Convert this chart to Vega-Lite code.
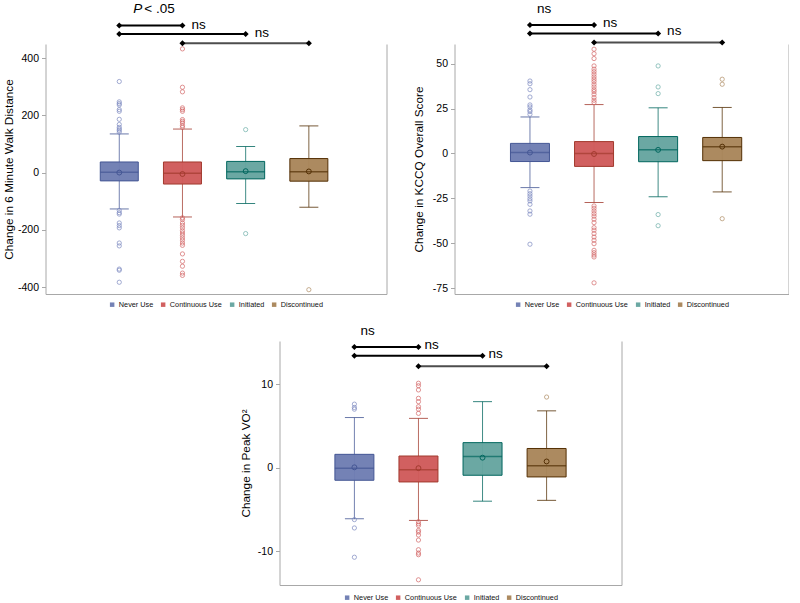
{
"$schema": "https://vega.github.io/schema/vega-lite/v6.json",
"padding": {"left": 2.5, "top": 1, "right": 0, "bottom": 0},
"datasets": {
"boxes": [
{"panel":"6MWD","group":"Never Use","lower":-127,"q1":-29,"median":1,"q3":37,"upper":135,"mean":0},
{"panel":"6MWD","group":"Continuous Use","lower":-155,"q1":-40,"median":-2,"q3":37,"upper":152,"mean":-5},
{"panel":"6MWD","group":"Initiated","lower":-108,"q1":-22,"median":3,"q3":39,"upper":91,"mean":5},
{"panel":"6MWD","group":"Discontinued","lower":-121,"q1":-30,"median":3,"q3":49,"upper":163,"mean":4},
{"panel":"KCCQ","group":"Never Use","lower":-19,"q1":-4.5,"median":0.5,"q3":5.6,"upper":20.3,"mean":0.5},
{"panel":"KCCQ","group":"Continuous Use","lower":-27.3,"q1":-7.2,"median":0,"q3":6.6,"upper":27.2,"mean":-0.3},
{"panel":"KCCQ","group":"Initiated","lower":-24.1,"q1":-4.6,"median":2,"q3":9.4,"upper":25.4,"mean":2},
{"panel":"KCCQ","group":"Discontinued","lower":-21.4,"q1":-4,"median":3.7,"q3":8.9,"upper":25.6,"mean":3.8},
{"panel":"VO2","group":"Never Use","lower":-6.1,"q1":-1.5,"median":-0.05,"q3":1.6,"upper":6.0,"mean":0.05},
{"panel":"VO2","group":"Continuous Use","lower":-6.3,"q1":-1.7,"median":-0.25,"q3":1.4,"upper":5.9,"mean":-0.05},
{"panel":"VO2","group":"Initiated","lower":-4.0,"q1":-0.9,"median":1.35,"q3":3.0,"upper":7.9,"mean":1.2},
{"panel":"VO2","group":"Discontinued","lower":-3.9,"q1":-1.1,"median":0.25,"q3":2.3,"upper":6.8,"mean":0.75}
],
"outliers": [
{"panel":"6MWD","group":"Never Use","value":318},{"panel":"6MWD","group":"Never Use","value":247},{"panel":"6MWD","group":"Never Use","value":241},{"panel":"6MWD","group":"Never Use","value":236},{"panel":"6MWD","group":"Never Use","value":220},{"panel":"6MWD","group":"Never Use","value":214},{"panel":"6MWD","group":"Never Use","value":186},{"panel":"6MWD","group":"Never Use","value":168},{"panel":"6MWD","group":"Never Use","value":158},{"panel":"6MWD","group":"Never Use","value":152},{"panel":"6MWD","group":"Never Use","value":147},{"panel":"6MWD","group":"Never Use","value":141},
{"panel":"6MWD","group":"Never Use","value":-132},{"panel":"6MWD","group":"Never Use","value":-140},{"panel":"6MWD","group":"Never Use","value":-145},{"panel":"6MWD","group":"Never Use","value":-176},{"panel":"6MWD","group":"Never Use","value":-185},{"panel":"6MWD","group":"Never Use","value":-193},{"panel":"6MWD","group":"Never Use","value":-246},{"panel":"6MWD","group":"Never Use","value":-256},{"panel":"6MWD","group":"Never Use","value":-337},{"panel":"6MWD","group":"Never Use","value":-341},{"panel":"6MWD","group":"Never Use","value":-383},
{"panel":"6MWD","group":"Continuous Use","value":432},{"panel":"6MWD","group":"Continuous Use","value":298},{"panel":"6MWD","group":"Continuous Use","value":282},{"panel":"6MWD","group":"Continuous Use","value":226},{"panel":"6MWD","group":"Continuous Use","value":220},{"panel":"6MWD","group":"Continuous Use","value":214},{"panel":"6MWD","group":"Continuous Use","value":185},{"panel":"6MWD","group":"Continuous Use","value":179},{"panel":"6MWD","group":"Continuous Use","value":173},{"panel":"6MWD","group":"Continuous Use","value":164},{"panel":"6MWD","group":"Continuous Use","value":158},
{"panel":"6MWD","group":"Continuous Use","value":-158},{"panel":"6MWD","group":"Continuous Use","value":-164},{"panel":"6MWD","group":"Continuous Use","value":-176},{"panel":"6MWD","group":"Continuous Use","value":-184},{"panel":"6MWD","group":"Continuous Use","value":-193},{"panel":"6MWD","group":"Continuous Use","value":-203},{"panel":"6MWD","group":"Continuous Use","value":-211},{"panel":"6MWD","group":"Continuous Use","value":-219},{"panel":"6MWD","group":"Continuous Use","value":-228},{"panel":"6MWD","group":"Continuous Use","value":-236},{"panel":"6MWD","group":"Continuous Use","value":-246},{"panel":"6MWD","group":"Continuous Use","value":-254},{"panel":"6MWD","group":"Continuous Use","value":-284},{"panel":"6MWD","group":"Continuous Use","value":-310},{"panel":"6MWD","group":"Continuous Use","value":-327},{"panel":"6MWD","group":"Continuous Use","value":-351},{"panel":"6MWD","group":"Continuous Use","value":-359},
{"panel":"6MWD","group":"Initiated","value":150},{"panel":"6MWD","group":"Initiated","value":-213},
{"panel":"6MWD","group":"Discontinued","value":-409},
{"panel":"KCCQ","group":"Never Use","value":40.3},{"panel":"KCCQ","group":"Never Use","value":38.8},{"panel":"KCCQ","group":"Never Use","value":35.5},{"panel":"KCCQ","group":"Never Use","value":31.4},{"panel":"KCCQ","group":"Never Use","value":27},{"panel":"KCCQ","group":"Never Use","value":25.9},{"panel":"KCCQ","group":"Never Use","value":24.2},{"panel":"KCCQ","group":"Never Use","value":23.3},{"panel":"KCCQ","group":"Never Use","value":21.8},
{"panel":"KCCQ","group":"Never Use","value":-20.9},{"panel":"KCCQ","group":"Never Use","value":-22.4},{"panel":"KCCQ","group":"Never Use","value":-23.7},{"panel":"KCCQ","group":"Never Use","value":-25.2},{"panel":"KCCQ","group":"Never Use","value":-26.4},{"panel":"KCCQ","group":"Never Use","value":-28.3},{"panel":"KCCQ","group":"Never Use","value":-32},{"panel":"KCCQ","group":"Never Use","value":-33.8},{"panel":"KCCQ","group":"Never Use","value":-50.5},
{"panel":"KCCQ","group":"Continuous Use","value":58},{"panel":"KCCQ","group":"Continuous Use","value":55.5},{"panel":"KCCQ","group":"Continuous Use","value":52.8},{"panel":"KCCQ","group":"Continuous Use","value":48.7},{"panel":"KCCQ","group":"Continuous Use","value":46.9},{"panel":"KCCQ","group":"Continuous Use","value":45.5},{"panel":"KCCQ","group":"Continuous Use","value":44.1},{"panel":"KCCQ","group":"Continuous Use","value":42.6},{"panel":"KCCQ","group":"Continuous Use","value":41.3},{"panel":"KCCQ","group":"Continuous Use","value":40},{"panel":"KCCQ","group":"Continuous Use","value":38.5},{"panel":"KCCQ","group":"Continuous Use","value":37},{"panel":"KCCQ","group":"Continuous Use","value":35.5},{"panel":"KCCQ","group":"Continuous Use","value":34.4},{"panel":"KCCQ","group":"Continuous Use","value":32.9},{"panel":"KCCQ","group":"Continuous Use","value":31.1},{"panel":"KCCQ","group":"Continuous Use","value":29.6},{"panel":"KCCQ","group":"Continuous Use","value":28.3},
{"panel":"KCCQ","group":"Continuous Use","value":-29.2},{"panel":"KCCQ","group":"Continuous Use","value":-30.5},{"panel":"KCCQ","group":"Continuous Use","value":-32},{"panel":"KCCQ","group":"Continuous Use","value":-33.5},{"panel":"KCCQ","group":"Continuous Use","value":-34.9},{"panel":"KCCQ","group":"Continuous Use","value":-36.6},{"panel":"KCCQ","group":"Continuous Use","value":-38.5},{"panel":"KCCQ","group":"Continuous Use","value":-41.3},{"panel":"KCCQ","group":"Continuous Use","value":-42.7},{"panel":"KCCQ","group":"Continuous Use","value":-44.6},{"panel":"KCCQ","group":"Continuous Use","value":-46.5},{"panel":"KCCQ","group":"Continuous Use","value":-48.3},{"panel":"KCCQ","group":"Continuous Use","value":-50.2},{"panel":"KCCQ","group":"Continuous Use","value":-53.9},{"panel":"KCCQ","group":"Continuous Use","value":-55.2},{"panel":"KCCQ","group":"Continuous Use","value":-56.5},{"panel":"KCCQ","group":"Continuous Use","value":-57.6},{"panel":"KCCQ","group":"Continuous Use","value":-72},
{"panel":"KCCQ","group":"Initiated","value":48.7},{"panel":"KCCQ","group":"Initiated","value":37},{"panel":"KCCQ","group":"Initiated","value":33.3},{"panel":"KCCQ","group":"Initiated","value":-34},{"panel":"KCCQ","group":"Initiated","value":-40.2},
{"panel":"KCCQ","group":"Discontinued","value":41.3},{"panel":"KCCQ","group":"Discontinued","value":38.5},{"panel":"KCCQ","group":"Discontinued","value":-36.3},
{"panel":"VO2","group":"Never Use","value":7.6},{"panel":"VO2","group":"Never Use","value":7.2},{"panel":"VO2","group":"Never Use","value":7.0},{"panel":"VO2","group":"Never Use","value":-6.2},{"panel":"VO2","group":"Never Use","value":-7.2},{"panel":"VO2","group":"Never Use","value":-10.7},
{"panel":"VO2","group":"Continuous Use","value":10.1},{"panel":"VO2","group":"Continuous Use","value":9.8},{"panel":"VO2","group":"Continuous Use","value":9.3},{"panel":"VO2","group":"Continuous Use","value":8.3},{"panel":"VO2","group":"Continuous Use","value":7.9},{"panel":"VO2","group":"Continuous Use","value":7.3},{"panel":"VO2","group":"Continuous Use","value":7.0},{"panel":"VO2","group":"Continuous Use","value":6.5},
{"panel":"VO2","group":"Continuous Use","value":-6.45},{"panel":"VO2","group":"Continuous Use","value":-6.7},{"panel":"VO2","group":"Continuous Use","value":-6.9},{"panel":"VO2","group":"Continuous Use","value":-7.5},{"panel":"VO2","group":"Continuous Use","value":-7.7},{"panel":"VO2","group":"Continuous Use","value":-8.05},{"panel":"VO2","group":"Continuous Use","value":-8.65},{"panel":"VO2","group":"Continuous Use","value":-9.8},{"panel":"VO2","group":"Continuous Use","value":-10.2},{"panel":"VO2","group":"Continuous Use","value":-10.4},{"panel":"VO2","group":"Continuous Use","value":-13.4},
{"panel":"VO2","group":"Discontinued","value":8.45}
],
"brackets": [
{"panel":"6MWD","from":"Never Use","to":"Continuous Use","level":514},
{"panel":"6MWD","from":"Never Use","to":"Initiated","level":484},
{"panel":"6MWD","from":"Continuous Use","to":"Discontinued","level":452},
{"panel":"KCCQ","from":"Never Use","to":"Continuous Use","level":71.5},
{"panel":"KCCQ","from":"Never Use","to":"Initiated","level":66.7},
{"panel":"KCCQ","from":"Continuous Use","to":"Discontinued","level":61.7},
{"panel":"VO2","from":"Never Use","to":"Continuous Use","level":14.43},
{"panel":"VO2","from":"Never Use","to":"Initiated","level":13.39},
{"panel":"VO2","from":"Continuous Use","to":"Discontinued","level":12.12}
],
"labels": [
{"panel":"6MWD","at":"Never Use","level":571,"text":"P","place":"top"},
{"panel":"6MWD","at":"Never Use","level":571,"text":"< .05","place":"top"},
{"panel":"6MWD","at":"Continuous Use","level":517,"text":"ns","place":"end"},
{"panel":"6MWD","at":"Initiated","level":488,"text":"ns","place":"end"},
{"panel":"KCCQ","at":"Never Use","level":80.5,"text":"ns","place":"top"},
{"panel":"KCCQ","at":"Continuous Use","level":72.6,"text":"ns","place":"end"},
{"panel":"KCCQ","at":"Initiated","level":67.9,"text":"ns","place":"end"},
{"panel":"VO2","at":"Never Use","level":16.33,"text":"ns","place":"top"},
{"panel":"VO2","at":"Continuous Use","level":14.66,"text":"ns","place":"end"},
{"panel":"VO2","at":"Initiated","level":13.65,"text":"ns","place":"end"}
]
},
"config": {
"font": "Liberation Sans",
"view": {"stroke": null},
"locale": {"number": {"decimal": ".", "thousands": ",", "grouping": [3], "currency": ["$", ""], "minus": "-"}},
"axis": {"grid": false, "domainColor": "#a8a8a8", "tickColor": "#a8a8a8", "labelColor": "#000000", "labelFontSize": 10.5, "titleFontSize": 11.8, "titleFontWeight": "normal", "titleColor": "#000000", "tickSize": 4, "labelPadding": 3, "labelFont": "Liberation Sans", "titleFont": "Liberation Sans"},
"legend": {"labelFontSize": 7.3, "labelColor": "#111111", "labelFont": "Liberation Sans", "symbolSize": 20, "symbolType": "square", "symbolStrokeWidth": 0, "columnPadding": 6, "labelOffset": 3, "padding": 0, "layout": {"bottom": {"anchor": "middle"}}},
"text": {"font": "Liberation Sans", "color": "#000000"}
},
"spacing": 16,
"resolve": {"scale": {"fill": "independent"}, "legend": {"fill": "independent"}},
"vconcat": [
{"hconcat": [
{
"width": 341, "height": 250,
"encoding": {"x": {"field": "group", "type": "nominal", "scale": {"domain": ["Never Use","Continuous Use","Initiated","Discontinued"], "paddingInner": 0, "paddingOuter": 0.698, "align": 0.478}, "axis": {"labels": false, "ticks": false, "title": null, "domain": true}}},
"resolve": {"axis": {"y": "independent"}},
"layer": [
{"data": {"name": "boxes"}, "transform": [{"filter": "datum.panel === '6MWD'"}],
 "mark": {"type": "rule", "strokeWidth": 1, "opacity": 0.75},
 "encoding": {"y": {"field": "lower", "type": "quantitative", "scale": {"domain": [-424, 449], "nice": false, "zero": false}, "axis": {"orient": "left", "title": "Change in 6 Minute Walk Distance", "values": [-400,-200,0,200,400], "titlePadding": 3}}, "y2": {"field": "upper"},
  "color": {"field": "group", "type": "nominal", "scale": {"domain": ["Never Use","Continuous Use","Initiated","Discontinued"], "range": ["#445694","#A23A2E","#01665E","#543005"]}, "legend": null}}},
{"data": {"name": "boxes"}, "transform": [{"filter": "datum.panel === '6MWD'"}, {"fold": ["lower","upper"], "as": ["end","value"]}],
 "mark": {"type": "tick", "size": 19, "thickness": 1, "opacity": 0.8},
 "encoding": {"y": {"field": "value", "type": "quantitative", "scale": {"domain": [-424, 449], "nice": false, "zero": false}, "axis": null},
  "color": {"field": "group", "type": "nominal", "scale": {"domain": ["Never Use","Continuous Use","Initiated","Discontinued"], "range": ["#445694","#A23A2E","#01665E","#543005"]}, "legend": null}}},
{"data": {"name": "boxes"}, "transform": [{"filter": "datum.panel === '6MWD'"}],
 "mark": {"type": "bar", "size": 38, "opacity": 0.97},
 "encoding": {"y": {"field": "q1", "type": "quantitative", "scale": {"domain": [-424, 449], "nice": false, "zero": false}, "axis": null}, "y2": {"field": "q3"},
  "fill": {"field": "group", "type": "nominal", "scale": {"domain": ["Never Use","Continuous Use","Initiated","Discontinued"], "range": ["#6F7EB3","#D05B5B","#66A5A0","#A9865B"]}, "legend": {"title": null, "orient": "bottom", "direction": "horizontal", "symbolType": "square", "offset": 7}}}},
{"data": {"name": "boxes"}, "transform": [{"filter": "datum.panel === '6MWD'"}],
 "mark": {"type": "bar", "size": 38, "filled": false, "strokeWidth": 1},
 "encoding": {"y": {"field": "q1", "type": "quantitative", "scale": {"domain": [-424, 449], "nice": false, "zero": false}, "axis": {"orient": "right", "labels": false, "ticks": false, "title": null, "domain": true}}, "y2": {"field": "q3"},
  "color": {"field": "group", "type": "nominal", "scale": {"domain": ["Never Use","Continuous Use","Initiated","Discontinued"], "range": ["#445694","#A23A2E","#01665E","#543005"]}, "legend": null}}},
{"data": {"name": "boxes"}, "transform": [{"filter": "datum.panel === '6MWD'"}],
 "mark": {"type": "tick", "size": 38, "thickness": 1.5},
 "encoding": {"y": {"field": "median", "type": "quantitative", "scale": {"domain": [-424, 449], "nice": false, "zero": false}, "axis": null},
  "color": {"field": "group", "type": "nominal", "scale": {"domain": ["Never Use","Continuous Use","Initiated","Discontinued"], "range": ["#445694","#A23A2E","#01665E","#543005"]}, "legend": null}}},
{"data": {"name": "boxes"}, "transform": [{"filter": "datum.panel === '6MWD'"}],
 "mark": {"type": "point", "filled": false, "size": 24, "strokeWidth": 1, "opacity": 1},
 "encoding": {"y": {"field": "mean", "type": "quantitative", "scale": {"domain": [-424, 449], "nice": false, "zero": false}, "axis": null},
  "color": {"field": "group", "type": "nominal", "scale": {"domain": ["Never Use","Continuous Use","Initiated","Discontinued"], "range": ["#445694","#A23A2E","#01665E","#543005"]}, "legend": null}}},
{"data": {"name": "outliers"}, "transform": [{"filter": "datum.panel === '6MWD'"}],
 "mark": {"type": "point", "filled": false, "size": 18, "strokeWidth": 0.8, "opacity": 0.9},
 "encoding": {"y": {"field": "value", "type": "quantitative", "scale": {"domain": [-424, 449], "nice": false, "zero": false}, "axis": null},
  "stroke": {"field": "group", "type": "nominal", "scale": {"domain": ["Never Use","Continuous Use","Initiated","Discontinued"], "range": ["#7f8bc2","#d46a6a","#6fb0a9","#b08e66"]}, "legend": null}}},
{"data": {"name": "brackets"}, "transform": [{"filter": "datum.panel === '6MWD'"}],
 "mark": {"type": "rule", "strokeWidth": 2},
 "encoding": {"x": {"field": "from", "type": "nominal", "scale": {"domain": ["Never Use","Continuous Use","Initiated","Discontinued"], "paddingInner": 0, "paddingOuter": 0.698, "align": 0.478}, "axis": {"labels": false, "ticks": false, "title": null, "domain": true}}, "x2": {"field": "to"},
  "y": {"field": "level", "type": "quantitative", "scale": {"domain": [-424, 449], "nice": false, "zero": false}, "axis": null},
  "stroke": {"condition": {"test": "datum.from === 'Continuous Use'", "value": "#4d4d4d"}, "value": "#000000"}}},
{"data": {"name": "brackets"}, "transform": [{"filter": "datum.panel === '6MWD'"}, {"fold": ["from","to"], "as": ["end","group"]}],
 "mark": {"type": "point", "shape": "diamond", "filled": true, "size": 36, "color": "#000000", "opacity": 1},
 "encoding": {"y": {"field": "level", "type": "quantitative", "scale": {"domain": [-424, 449], "nice": false, "zero": false}, "axis": null}}},
{"data": {"name": "labels"}, "transform": [{"filter": "datum.panel === '6MWD' && datum.text === 'P'"}],
 "mark": {"type": "text", "align": "left", "baseline": "middle", "dx": 14, "fontSize": 13.5, "fontStyle": "italic"},
 "encoding": {"x": {"field": "at", "type": "nominal", "scale": {"domain": ["Never Use","Continuous Use","Initiated","Discontinued"], "paddingInner": 0, "paddingOuter": 0.698, "align": 0.478}, "axis": {"labels": false, "ticks": false, "title": null, "domain": true}},
  "y": {"field": "level", "type": "quantitative", "scale": {"domain": [-424, 449], "nice": false, "zero": false}, "axis": null}, "text": {"field": "text"}}},
{"data": {"name": "labels"}, "transform": [{"filter": "datum.panel === '6MWD' && datum.text === '< .05'"}],
 "mark": {"type": "text", "align": "left", "baseline": "middle", "dx": 25, "fontSize": 13.5},
 "encoding": {"x": {"field": "at", "type": "nominal", "scale": {"domain": ["Never Use","Continuous Use","Initiated","Discontinued"], "paddingInner": 0, "paddingOuter": 0.698, "align": 0.478}, "axis": {"labels": false, "ticks": false, "title": null, "domain": true}},
  "y": {"field": "level", "type": "quantitative", "scale": {"domain": [-424, 449], "nice": false, "zero": false}, "axis": null}, "text": {"field": "text"}}},
{"data": {"name": "labels"}, "transform": [{"filter": "datum.panel === '6MWD' && datum.place === 'end'"}],
 "mark": {"type": "text", "align": "left", "baseline": "middle", "dx": 9, "fontSize": 13.5},
 "encoding": {"x": {"field": "at", "type": "nominal", "scale": {"domain": ["Never Use","Continuous Use","Initiated","Discontinued"], "paddingInner": 0, "paddingOuter": 0.698, "align": 0.478}, "axis": {"labels": false, "ticks": false, "title": null, "domain": true}},
  "y": {"field": "level", "type": "quantitative", "scale": {"domain": [-424, 449], "nice": false, "zero": false}, "axis": null}, "text": {"field": "text"}}}
]
},
{
"width": 334, "height": 250,
"encoding": {"x": {"field": "group", "type": "nominal", "scale": {"domain": ["Never Use","Continuous Use","Initiated","Discontinued"], "paddingInner": 0, "paddingOuter": 0.606, "align": 0.559}, "axis": {"labels": false, "ticks": false, "title": null, "domain": true}}},
"resolve": {"axis": {"y": "independent"}},
"layer": [
{"data": {"name": "boxes"}, "transform": [{"filter": "datum.panel === 'KCCQ'"}],
 "mark": {"type": "rule", "strokeWidth": 1, "opacity": 0.75},
 "encoding": {"y": {"field": "lower", "type": "quantitative", "scale": {"domain": [-78.2, 60.9], "nice": false, "zero": false}, "axis": {"orient": "left", "title": "Change in KCCQ Overall Score", "values": [-75,-50,-25,0,25,50], "titlePadding": 8}}, "y2": {"field": "upper"},
  "color": {"field": "group", "type": "nominal", "scale": {"domain": ["Never Use","Continuous Use","Initiated","Discontinued"], "range": ["#445694","#A23A2E","#01665E","#543005"]}, "legend": null}}},
{"data": {"name": "boxes"}, "transform": [{"filter": "datum.panel === 'KCCQ'"}, {"fold": ["lower","upper"], "as": ["end","value"]}],
 "mark": {"type": "tick", "size": 19, "thickness": 1, "opacity": 0.8},
 "encoding": {"y": {"field": "value", "type": "quantitative", "scale": {"domain": [-78.2, 60.9], "nice": false, "zero": false}, "axis": null},
  "color": {"field": "group", "type": "nominal", "scale": {"domain": ["Never Use","Continuous Use","Initiated","Discontinued"], "range": ["#445694","#A23A2E","#01665E","#543005"]}, "legend": null}}},
{"data": {"name": "boxes"}, "transform": [{"filter": "datum.panel === 'KCCQ'"}],
 "mark": {"type": "bar", "size": 39, "opacity": 0.97},
 "encoding": {"y": {"field": "q1", "type": "quantitative", "scale": {"domain": [-78.2, 60.9], "nice": false, "zero": false}, "axis": null}, "y2": {"field": "q3"},
  "fill": {"field": "group", "type": "nominal", "scale": {"domain": ["Never Use","Continuous Use","Initiated","Discontinued"], "range": ["#6F7EB3","#D05B5B","#66A5A0","#A9865B"]}, "legend": {"title": null, "orient": "bottom", "direction": "horizontal", "symbolType": "square", "offset": 7}}}},
{"data": {"name": "boxes"}, "transform": [{"filter": "datum.panel === 'KCCQ'"}],
 "mark": {"type": "bar", "size": 39, "filled": false, "strokeWidth": 1},
 "encoding": {"y": {"field": "q1", "type": "quantitative", "scale": {"domain": [-78.2, 60.9], "nice": false, "zero": false}, "axis": {"orient": "right", "labels": false, "ticks": false, "title": null, "domain": true}}, "y2": {"field": "q3"},
  "color": {"field": "group", "type": "nominal", "scale": {"domain": ["Never Use","Continuous Use","Initiated","Discontinued"], "range": ["#445694","#A23A2E","#01665E","#543005"]}, "legend": null}}},
{"data": {"name": "boxes"}, "transform": [{"filter": "datum.panel === 'KCCQ'"}],
 "mark": {"type": "tick", "size": 39, "thickness": 1.5},
 "encoding": {"y": {"field": "median", "type": "quantitative", "scale": {"domain": [-78.2, 60.9], "nice": false, "zero": false}, "axis": null},
  "color": {"field": "group", "type": "nominal", "scale": {"domain": ["Never Use","Continuous Use","Initiated","Discontinued"], "range": ["#445694","#A23A2E","#01665E","#543005"]}, "legend": null}}},
{"data": {"name": "boxes"}, "transform": [{"filter": "datum.panel === 'KCCQ'"}],
 "mark": {"type": "point", "filled": false, "size": 24, "strokeWidth": 1, "opacity": 1},
 "encoding": {"y": {"field": "mean", "type": "quantitative", "scale": {"domain": [-78.2, 60.9], "nice": false, "zero": false}, "axis": null},
  "color": {"field": "group", "type": "nominal", "scale": {"domain": ["Never Use","Continuous Use","Initiated","Discontinued"], "range": ["#445694","#A23A2E","#01665E","#543005"]}, "legend": null}}},
{"data": {"name": "outliers"}, "transform": [{"filter": "datum.panel === 'KCCQ'"}],
 "mark": {"type": "point", "filled": false, "size": 18, "strokeWidth": 0.8, "opacity": 0.9},
 "encoding": {"y": {"field": "value", "type": "quantitative", "scale": {"domain": [-78.2, 60.9], "nice": false, "zero": false}, "axis": null},
  "stroke": {"field": "group", "type": "nominal", "scale": {"domain": ["Never Use","Continuous Use","Initiated","Discontinued"], "range": ["#7f8bc2","#d46a6a","#6fb0a9","#b08e66"]}, "legend": null}}},
{"data": {"name": "brackets"}, "transform": [{"filter": "datum.panel === 'KCCQ'"}],
 "mark": {"type": "rule", "strokeWidth": 2},
 "encoding": {"x": {"field": "from", "type": "nominal", "scale": {"domain": ["Never Use","Continuous Use","Initiated","Discontinued"], "paddingInner": 0, "paddingOuter": 0.606, "align": 0.559}, "axis": {"labels": false, "ticks": false, "title": null, "domain": true}}, "x2": {"field": "to"},
  "y": {"field": "level", "type": "quantitative", "scale": {"domain": [-78.2, 60.9], "nice": false, "zero": false}, "axis": null},
  "stroke": {"condition": {"test": "datum.from === 'Continuous Use'", "value": "#4d4d4d"}, "value": "#000000"}}},
{"data": {"name": "brackets"}, "transform": [{"filter": "datum.panel === 'KCCQ'"}, {"fold": ["from","to"], "as": ["end","group"]}],
 "mark": {"type": "point", "shape": "diamond", "filled": true, "size": 36, "color": "#000000", "opacity": 1},
 "encoding": {"y": {"field": "level", "type": "quantitative", "scale": {"domain": [-78.2, 60.9], "nice": false, "zero": false}, "axis": null}}},
{"data": {"name": "labels"}, "transform": [{"filter": "datum.panel === 'KCCQ' && datum.place === 'top'"}],
 "mark": {"type": "text", "align": "left", "baseline": "middle", "dx": 7, "fontSize": 13.5},
 "encoding": {"x": {"field": "at", "type": "nominal", "scale": {"domain": ["Never Use","Continuous Use","Initiated","Discontinued"], "paddingInner": 0, "paddingOuter": 0.606, "align": 0.559}, "axis": {"labels": false, "ticks": false, "title": null, "domain": true}},
  "y": {"field": "level", "type": "quantitative", "scale": {"domain": [-78.2, 60.9], "nice": false, "zero": false}, "axis": null}, "text": {"field": "text"}}},
{"data": {"name": "labels"}, "transform": [{"filter": "datum.panel === 'KCCQ' && datum.place === 'end'"}],
 "mark": {"type": "text", "align": "left", "baseline": "middle", "dx": 9, "fontSize": 13.5},
 "encoding": {"x": {"field": "at", "type": "nominal", "scale": {"domain": ["Never Use","Continuous Use","Initiated","Discontinued"], "paddingInner": 0, "paddingOuter": 0.606, "align": 0.559}, "axis": {"labels": false, "ticks": false, "title": null, "domain": true}},
  "y": {"field": "level", "type": "quantitative", "scale": {"domain": [-78.2, 60.9], "nice": false, "zero": false}, "axis": null}, "text": {"field": "text"}}}
]
}
], "spacing": 26, "resolve": {"scale": {"fill": "independent"}, "legend": {"fill": "independent"}}},
{"hconcat": [
{"width": 194, "height": 10, "view": {"fill": "#ffffff", "stroke": null}, "data": {"values": []}, "mark": {"type": "point", "opacity": 0}, "encoding": {}},
{
"width": 342, "height": 244,
"encoding": {"x": {"field": "group", "type": "nominal", "scale": {"domain": ["Never Use","Continuous Use","Initiated","Discontinued"], "paddingInner": 0, "paddingOuter": 0.669, "align": 0.5}, "axis": {"labels": false, "ticks": false, "title": null, "domain": true}}},
"resolve": {"axis": {"y": "independent"}},
"layer": [
{"data": {"name": "boxes"}, "transform": [{"filter": "datum.panel === 'VO2'"}],
 "mark": {"type": "rule", "strokeWidth": 1, "opacity": 0.75},
 "encoding": {"y": {"field": "lower", "type": "quantitative", "scale": {"domain": [-14.02, 15.15], "nice": false, "zero": false}, "axis": {"orient": "left", "title": "Change in Peak VO²", "values": [-10,0,10], "titlePadding": 6}}, "y2": {"field": "upper"},
  "color": {"field": "group", "type": "nominal", "scale": {"domain": ["Never Use","Continuous Use","Initiated","Discontinued"], "range": ["#445694","#A23A2E","#01665E","#543005"]}, "legend": null}}},
{"data": {"name": "boxes"}, "transform": [{"filter": "datum.panel === 'VO2'"}, {"fold": ["lower","upper"], "as": ["end","value"]}],
 "mark": {"type": "tick", "size": 19, "thickness": 1, "opacity": 0.8},
 "encoding": {"y": {"field": "value", "type": "quantitative", "scale": {"domain": [-14.02, 15.15], "nice": false, "zero": false}, "axis": null},
  "color": {"field": "group", "type": "nominal", "scale": {"domain": ["Never Use","Continuous Use","Initiated","Discontinued"], "range": ["#445694","#A23A2E","#01665E","#543005"]}, "legend": null}}},
{"data": {"name": "boxes"}, "transform": [{"filter": "datum.panel === 'VO2'"}],
 "mark": {"type": "bar", "size": 39, "opacity": 0.97},
 "encoding": {"y": {"field": "q1", "type": "quantitative", "scale": {"domain": [-14.02, 15.15], "nice": false, "zero": false}, "axis": null}, "y2": {"field": "q3"},
  "fill": {"field": "group", "type": "nominal", "scale": {"domain": ["Never Use","Continuous Use","Initiated","Discontinued"], "range": ["#6F7EB3","#D05B5B","#66A5A0","#A9865B"]}, "legend": {"title": null, "orient": "bottom", "direction": "horizontal", "symbolType": "square", "offset": 9}}}},
{"data": {"name": "boxes"}, "transform": [{"filter": "datum.panel === 'VO2'"}],
 "mark": {"type": "bar", "size": 39, "filled": false, "strokeWidth": 1},
 "encoding": {"y": {"field": "q1", "type": "quantitative", "scale": {"domain": [-14.02, 15.15], "nice": false, "zero": false}, "axis": {"orient": "right", "labels": false, "ticks": false, "title": null, "domain": true}}, "y2": {"field": "q3"},
  "color": {"field": "group", "type": "nominal", "scale": {"domain": ["Never Use","Continuous Use","Initiated","Discontinued"], "range": ["#445694","#A23A2E","#01665E","#543005"]}, "legend": null}}},
{"data": {"name": "boxes"}, "transform": [{"filter": "datum.panel === 'VO2'"}],
 "mark": {"type": "tick", "size": 39, "thickness": 1.5},
 "encoding": {"y": {"field": "median", "type": "quantitative", "scale": {"domain": [-14.02, 15.15], "nice": false, "zero": false}, "axis": null},
  "color": {"field": "group", "type": "nominal", "scale": {"domain": ["Never Use","Continuous Use","Initiated","Discontinued"], "range": ["#445694","#A23A2E","#01665E","#543005"]}, "legend": null}}},
{"data": {"name": "boxes"}, "transform": [{"filter": "datum.panel === 'VO2'"}],
 "mark": {"type": "point", "filled": false, "size": 24, "strokeWidth": 1, "opacity": 1},
 "encoding": {"y": {"field": "mean", "type": "quantitative", "scale": {"domain": [-14.02, 15.15], "nice": false, "zero": false}, "axis": null},
  "color": {"field": "group", "type": "nominal", "scale": {"domain": ["Never Use","Continuous Use","Initiated","Discontinued"], "range": ["#445694","#A23A2E","#01665E","#543005"]}, "legend": null}}},
{"data": {"name": "outliers"}, "transform": [{"filter": "datum.panel === 'VO2'"}],
 "mark": {"type": "point", "filled": false, "size": 18, "strokeWidth": 0.8, "opacity": 0.9},
 "encoding": {"y": {"field": "value", "type": "quantitative", "scale": {"domain": [-14.02, 15.15], "nice": false, "zero": false}, "axis": null},
  "stroke": {"field": "group", "type": "nominal", "scale": {"domain": ["Never Use","Continuous Use","Initiated","Discontinued"], "range": ["#7f8bc2","#d46a6a","#6fb0a9","#b08e66"]}, "legend": null}}},
{"data": {"name": "brackets"}, "transform": [{"filter": "datum.panel === 'VO2'"}],
 "mark": {"type": "rule", "strokeWidth": 2},
 "encoding": {"x": {"field": "from", "type": "nominal", "scale": {"domain": ["Never Use","Continuous Use","Initiated","Discontinued"], "paddingInner": 0, "paddingOuter": 0.669, "align": 0.5}, "axis": {"labels": false, "ticks": false, "title": null, "domain": true}}, "x2": {"field": "to"},
  "y": {"field": "level", "type": "quantitative", "scale": {"domain": [-14.02, 15.15], "nice": false, "zero": false}, "axis": null},
  "stroke": {"condition": {"test": "datum.from === 'Continuous Use'", "value": "#4d4d4d"}, "value": "#000000"}}},
{"data": {"name": "brackets"}, "transform": [{"filter": "datum.panel === 'VO2'"}, {"fold": ["from","to"], "as": ["end","group"]}],
 "mark": {"type": "point", "shape": "diamond", "filled": true, "size": 36, "color": "#000000", "opacity": 1},
 "encoding": {"y": {"field": "level", "type": "quantitative", "scale": {"domain": [-14.02, 15.15], "nice": false, "zero": false}, "axis": null}}},
{"data": {"name": "labels"}, "transform": [{"filter": "datum.panel === 'VO2' && datum.place === 'top'"}],
 "mark": {"type": "text", "align": "left", "baseline": "middle", "dx": 6, "fontSize": 13.5},
 "encoding": {"x": {"field": "at", "type": "nominal", "scale": {"domain": ["Never Use","Continuous Use","Initiated","Discontinued"], "paddingInner": 0, "paddingOuter": 0.669, "align": 0.5}, "axis": {"labels": false, "ticks": false, "title": null, "domain": true}},
  "y": {"field": "level", "type": "quantitative", "scale": {"domain": [-14.02, 15.15], "nice": false, "zero": false}, "axis": null}, "text": {"field": "text"}}},
{"data": {"name": "labels"}, "transform": [{"filter": "datum.panel === 'VO2' && datum.place === 'end'"}],
 "mark": {"type": "text", "align": "left", "baseline": "middle", "dx": 6, "fontSize": 13.5},
 "encoding": {"x": {"field": "at", "type": "nominal", "scale": {"domain": ["Never Use","Continuous Use","Initiated","Discontinued"], "paddingInner": 0, "paddingOuter": 0.669, "align": 0.5}, "axis": {"labels": false, "ticks": false, "title": null, "domain": true}},
  "y": {"field": "level", "type": "quantitative", "scale": {"domain": [-14.02, 15.15], "nice": false, "zero": false}, "axis": null}, "text": {"field": "text"}}}
]
}
], "spacing": 0, "resolve": {"scale": {"fill": "independent"}, "legend": {"fill": "independent"}}}
]
}
